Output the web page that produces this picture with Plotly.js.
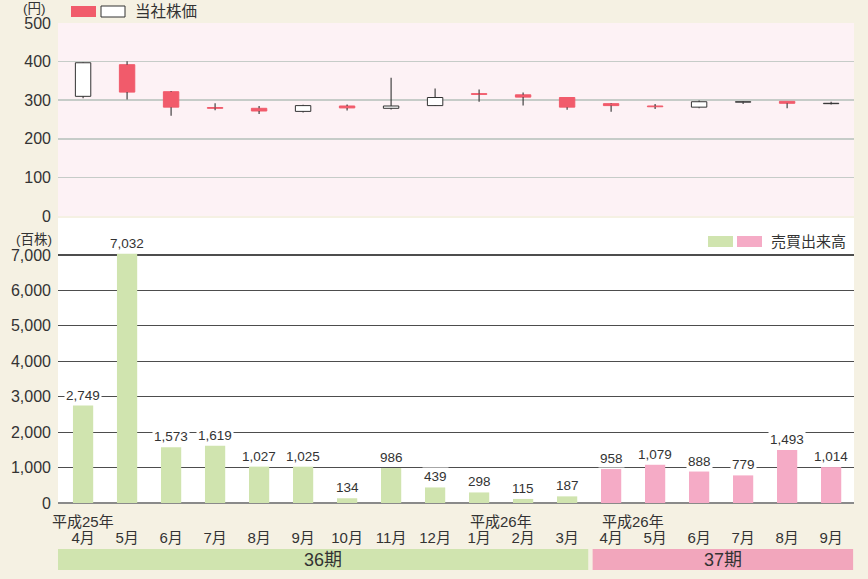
<!DOCTYPE html>
<html>
<head>
<meta charset="utf-8">
<script src="https://cdn.plot.ly/plotly-3.0.1.min.js"></script>
<style>html,body{margin:0;padding:0;background:#F5F1E3;}#chart{width:868px;height:579px;}</style>
</head>
<body>
<div id="chart"></div>
<script>
// ---- data ----
const months = ['4月','5月','6月','7月','8月','9月','10月','11月','12月','1月','2月','3月','4月','5月','6月','7月','8月','9月'];
const priceOpen  = [310, 392, 322, 281, 279, 271, 285, 279, 286, 317, 314, 307, 291, 285, 282, 295, 297, 291];
const priceClose = [397, 321, 282, 279, 272, 286, 280, 285, 307, 315, 308, 282, 286, 283, 296, 296, 292, 292];
const priceHigh  = [398, 401, 324, 292, 285, 288, 289, 358, 330, 328, 320, 307, 292, 290, 299, 297, 297, 296];
const priceLow   = [305, 302, 260, 274, 264, 268, 273, 276, 285, 296, 286, 275, 270, 277, 279, 290, 279, 289];
const volume     = [2749, 7032, 1573, 1619, 1027, 1025, 134, 986, 439, 298, 115, 187, 958, 1079, 888, 779, 1493, 1014];
const periodNames = ['36期', '37期'];
const periodStart = [0, 12];
const periodEnd   = [11, 17];
const yearLabelIdx  = [0, 9, 12];
const yearLabelText = ['平成25年', '平成26年', '平成26年'];
const priceTicks  = [0, 100, 200, 300, 400, 500];
const volumeTicks = [0, 1000, 2000, 3000, 4000, 5000, 6000, 7000];

// ---- styling ----
const RED = '#F15B6B', TXT = '#333333';
const GREEN_BAR = '#D0E4AF', PINK_BAR = '#F5ABC6';
const GREEN_BAND = '#D0E4AF', PINK_BAND = '#F2A6BC';
const FONT = 'Liberation Sans, Noto Sans CJK JP, sans-serif';
const W = 868, H = 579, ML = 58, MR = 14, MT = 23, MB = 76;
const PW = W - ML - MR, PH = H - MT - MB;
const px = x => (x - ML) / PW;
const py = y => (H - MB - y) / PH;

const xs = months.map((m, i) => i);
const isUp = xs.map(i => priceClose[i] >= priceOpen[i]);
const bodyBase = xs.map(i => Math.min(priceOpen[i], priceClose[i]));
const bodyTop = xs.map(i => Math.max(priceOpen[i], priceClose[i]));
const bodyH = xs.map(i => bodyTop[i] - bodyBase[i]);
const periodOf = i => periodStart.findIndex((s, k) => i >= s && i <= periodEnd[k]);

// wick segments outside the body
const wx = [], wy = [];
xs.forEach(i => {
  if (priceHigh[i] > bodyTop[i]) { wx.push(i, i, null); wy.push(bodyTop[i], priceHigh[i], null); }
  if (priceLow[i] < bodyBase[i]) { wx.push(i, i, null); wy.push(priceLow[i], bodyBase[i], null); }
});

const traces = [
  {
    type: 'bar', x: xs, y: bodyH, base: bodyBase, width: 0.35,
    xaxis: 'x', yaxis: 'y',
    marker: { color: isUp.map(u => u ? '#ffffff' : RED),
              line: { color: isUp.map(u => u ? '#333333' : RED), width: 1 } },
    hoverinfo: 'skip', showlegend: false
  },
  {
    type: 'scatter', mode: 'lines', x: wx, y: wy, xaxis: 'x', yaxis: 'y',
    line: { color: '#333333', width: 1.1 }, hoverinfo: 'skip', showlegend: false
  },
  {
    type: 'bar', x: xs, y: volume, width: 0.46, xaxis: 'x2', yaxis: 'y2',
    marker: { color: xs.map(i => periodOf(i) === 0 ? GREEN_BAR : PINK_BAR) },
    hoverinfo: 'skip', showlegend: false
  }
];

const annotations = [];
xs.forEach(i => {
  annotations.push({
    x: i, y: volume[i], xref: 'x2', yref: 'y2', xanchor: 'center', yanchor: 'bottom', yshift: 1,
    text: volume[i].toLocaleString('en-US'), showarrow: false,
    bgcolor: '#ffffff', borderpad: 1,
    font: { family: FONT, size: 13.5, color: TXT }
  });
});
yearLabelIdx.forEach((idx, k) => {
  annotations.push({
    x: idx, y: py(521), xref: 'x2', yref: 'paper',
    xanchor: k === 0 ? 'center' : 'left', xshift: k === 0 ? 0 : -11,
    yanchor: 'middle', text: yearLabelText[k], showarrow: false,
    font: { family: FONT, size: 15, color: TXT }
  });
});
const shapes = [
  // pink background of price panel
  { type: 'rect', xref: 'paper', yref: 'paper', x0: 0, x1: 1, y0: py(216), y1: 1,
    fillcolor: '#FDF2F5', line: { width: 0 }, layer: 'below' },
  // price legend
  { type: 'rect', xref: 'paper', yref: 'paper', x0: px(71), x1: px(96), y0: py(17), y1: py(6),
    fillcolor: RED, line: { width: 0 } },
  { type: 'rect', xref: 'paper', yref: 'paper', x0: px(101), x1: px(125), y0: py(17), y1: py(6),
    fillcolor: '#ffffff', line: { color: '#333333', width: 1 } },
  // volume legend
  { type: 'rect', xref: 'paper', yref: 'paper', x0: px(708), x1: px(733), y0: py(247), y1: py(236),
    fillcolor: GREEN_BAR, line: { width: 0 } },
  { type: 'rect', xref: 'paper', yref: 'paper', x0: px(737), x1: px(762), y0: py(247), y1: py(236),
    fillcolor: PINK_BAR, line: { width: 0 } }
];
const bandColors = [GREEN_BAND, PINK_BAND];
periodNames.forEach((name, k) => {
  const x0 = k === 0 ? -0.57 : periodStart[k] - 0.42;
  const x1 = k === periodNames.length - 1 ? 17.5 : periodEnd[k] + 0.48;
  shapes.push({ type: 'rect', xref: 'x2', yref: 'paper', x0: x0, x1: x1, y0: py(570), y1: py(549),
    fillcolor: bandColors[k], line: { width: 0 } });
  annotations.push({ x: (x0 + x1) / 2, y: py(560), xref: 'x2', yref: 'paper',
    xanchor: 'center', yanchor: 'middle',
    text: name, showarrow: false, font: { family: FONT, size: 18, color: TXT } });
});
annotations.push(
  { x: px(48), y: py(8), xref: 'paper', yref: 'paper', xanchor: 'right', yanchor: 'middle', text: '(円)',
    showarrow: false, font: { family: FONT, size: 13.5, color: TXT } },
  { x: px(133), y: py(12), xref: 'paper', yref: 'paper', xanchor: 'left', yanchor: 'middle', text: '当社株価',
    showarrow: false, font: { family: FONT, size: 15.5, color: TXT } },
  { x: px(54), y: py(239.5), xref: 'paper', yref: 'paper', xanchor: 'right', yanchor: 'middle', text: '(百株)',
    showarrow: false, font: { family: FONT, size: 13.5, color: TXT } },
  { x: px(769), y: py(241), xref: 'paper', yref: 'paper', xanchor: 'left', yanchor: 'middle', text: '売買出来高',
    showarrow: false, font: { family: FONT, size: 15, color: TXT } }
);

const layout = {
  width: W, height: H,
  margin: { l: ML, r: MR, t: MT, b: MB, pad: 0 },
  paper_bgcolor: '#F5F1E3', plot_bgcolor: '#ffffff',
  barmode: 'overlay', showlegend: false,
  font: { family: FONT, color: TXT },
  xaxis: { domain: [0, 1], anchor: 'y', range: [-0.57, 17.52], showticklabels: false,
           showgrid: false, zeroline: false, showline: false, fixedrange: true },
  yaxis: { domain: [py(216), 1], anchor: 'x', range: [0, 500], tickvals: priceTicks,
           showgrid: true, gridcolor: '#C6CCC8', gridwidth: 1.5, zeroline: false,
           ticks: '', ticklabelstandoff: 6, tickfont: { family: FONT, size: 16, color: TXT } },
  xaxis2: { domain: [0, 1], anchor: 'y2', range: [-0.57, 17.52], tickvals: xs, ticktext: months,
            showgrid: false, zeroline: false, showline: false, ticks: '',
            ticklabelstandoff: 24, tickfont: { family: FONT, size: 15, color: TXT } },
  yaxis2: { domain: [0, py(218)], anchor: 'x2', range: [0, 8044], tickvals: volumeTicks,
            tickformat: ',d', showgrid: true, gridcolor: '#4D4D4D', gridwidth: 1.1,
            zeroline: true, zerolinecolor: '#8A8A8A', zerolinewidth: 2,
            ticks: '', ticklabelstandoff: 6, tickfont: { family: FONT, size: 16, color: TXT } },
  shapes: shapes,
  annotations: annotations
};

Plotly.newPlot('chart', traces, layout, { displayModeBar: false, staticPlot: true });
</script>
</body>
</html>
